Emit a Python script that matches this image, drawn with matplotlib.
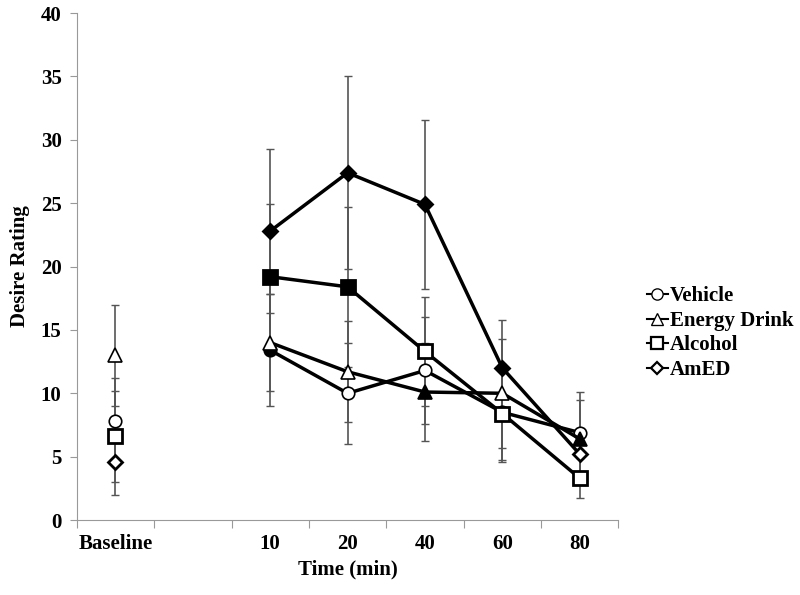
import matplotlib.pyplot as plt
from matplotlib.lines import Line2D

# categories on the x axis (second slot is an empty gap)
categories = ["Baseline", "", "10", "20", "40", "60", "80"]
times = ["10", "20", "40", "60", "80"]

# baseline values and errors
baseline_mean = {"Vehicle": 7.8, "Energy Drink": 13.0, "Alcohol": 6.6, "AmED": 4.6}
baseline_err = {"Vehicle": 3.4, "Energy Drink": 4.0, "Alcohol": 3.6, "AmED": 2.6}

# post-drink values
vehicle = [13.4, 10.0, 11.8, 8.5, 6.9]
energy_drink = [14.0, 11.7, 10.1, 10.0, 6.4]
alcohol = [19.2, 18.4, 13.3, 8.4, 3.3]
amed = [22.8, 27.4, 24.9, 12.0, 5.2]

vehicle_err = [4.4, 4.0, 4.2, 3.8, 3.2]
energy_drink_err = [3.8, 4.0, 3.9, 4.3, 3.1]
alcohol_err = [5.7, 6.3, 4.3, 3.8, 1.6]
amed_err = [6.5, 7.6, 6.7, 3.8, 2.0]

# filled marker = significant difference from baseline
vehicle_sig = [True, False, False, False, False]
energy_drink_sig = [False, False, True, False, True]
alcohol_sig = [True, True, False, False, False]
amed_sig = [True, True, True, True, False]

# name, values, errors, significance, marker, size, edge width
series = [
    ("Vehicle", vehicle, vehicle_err, vehicle_sig, "o", 9, 1.2),
    ("Energy Drink", energy_drink, energy_drink_err, energy_drink_sig, "^", 10, 1.2),
    ("Alcohol", alcohol, alcohol_err, alcohol_sig, "s", 9.5, 2),
    ("AmED", amed, amed_err, amed_sig, "D", 7, 2),
]

plt.rcParams['font.family'] = ['Liberation Serif', 'DejaVu Serif']
plt.rcParams['font.weight'] = 'bold'

fig = plt.figure(figsize=(8, 5.95), dpi=100)
ax = fig.add_axes([0.096, 0.126, 0.677, 0.852])

xpos = [categories.index(t) for t in times]
bx = categories.index("Baseline")

# error bars (grey, behind everything)
for name, vals, errs, sig, mk, ms, mw in series:
    ax.errorbar(xpos, vals, yerr=errs, fmt='none', ecolor='#555555',
                elinewidth=1.2, capsize=3, capthick=1, zorder=1)
    ax.errorbar([bx], [baseline_mean[name]], yerr=[baseline_err[name]], fmt='none',
                ecolor='#555555', elinewidth=1.2, capsize=3, capthick=1, zorder=1)

# lines and markers
for i, (name, vals, errs, sig, mk, ms, mw) in enumerate(series):
    ax.plot(xpos, vals, color='black', lw=2.5, zorder=2 + i)
    for x, v, s in zip(xpos, vals, sig):
        ax.plot(x, v, marker=mk, ms=ms, mec='black', mew=mw,
                mfc='black' if s else 'white', zorder=3 + i)
    ax.plot(bx, baseline_mean[name], marker=mk, ms=ms, mec='black', mew=mw,
            mfc='white', zorder=3 + i)

ax.set_xlim(-0.5, len(categories) - 0.5)
ax.set_ylim(0, 40)
ax.set_yticks(range(0, 41, 5))
ax.tick_params(axis='y', labelsize=15, length=5, color='#999999', pad=6)

# tick marks between categories, labels centred on categories
ax.set_xticks([i - 0.5 for i in range(len(categories) + 1)])
ax.set_xticklabels([])
ax.set_xticks(range(len(categories)), minor=True)
ax.set_xticklabels(categories, minor=True, fontsize=15, fontweight='bold')
ax.tick_params(axis='x', which='major', length=6, color='#999999')
ax.tick_params(axis='x', which='minor', length=0, pad=10)

for t in ax.get_yticklabels():
    t.set_fontweight('bold')

ax.spines['top'].set_visible(False)
ax.spines['right'].set_visible(False)
ax.spines['left'].set_color('#999999')
ax.spines['bottom'].set_color('#999999')

ax.set_ylabel("Desire Rating", fontsize=15, fontweight='bold', labelpad=8)
ax.set_xlabel("Time (min)", fontsize=15, fontweight='bold', labelpad=4)

handles = [Line2D([], [], color='black', lw=1.5, marker=mk, ms=ms * 0.9,
                  mfc='white', mec='black', mew=mw * 0.8)
           for name, vals, errs, sig, mk, ms, mw in series]
fig.legend(handles, [s[0] for s in series], loc='center left',
           bbox_to_anchor=(0.785, 0.44), frameon=False, handlelength=1.0,
           handletextpad=0.1, labelspacing=0.22, prop={'size': 15, 'weight': 'bold'})

fig.savefig("out.png", dpi=100)
